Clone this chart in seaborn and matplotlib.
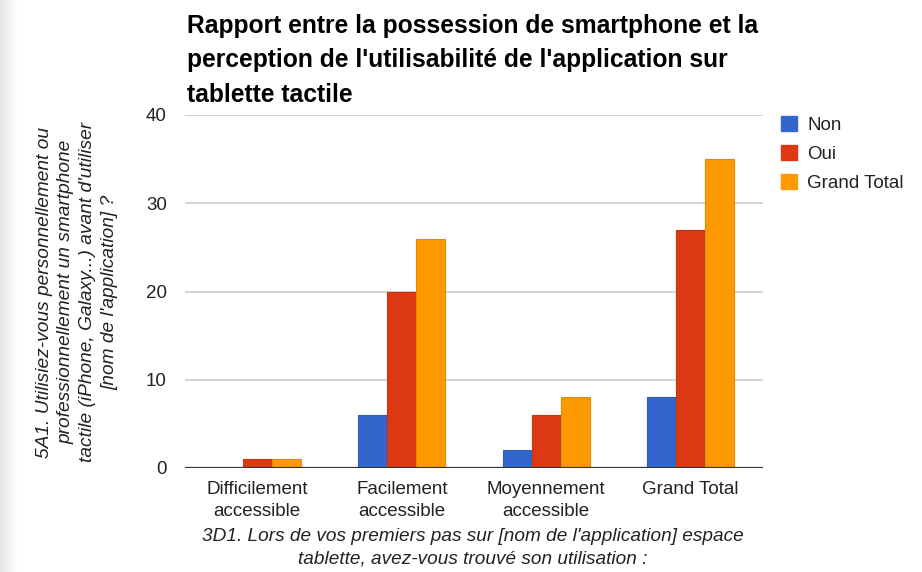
import matplotlib
matplotlib.use("Agg")
import matplotlib.pyplot as plt
import matplotlib.patches as mpatches
import seaborn as sns
import pandas as pd

categories = ["Difficilement\naccessible", "Facilement\naccessible", "Moyennement\naccessible", "Grand Total"]
series_names = ["Non", "Oui", "Grand Total"]
non_values = [0, 6, 2, 8]
oui_values = [1, 20, 6, 27]
total_values = [1, 26, 8, 35]
y_ticks = [0, 10, 20, 30, 40]

title = "Rapport entre la possession de smartphone et la\nperception de l'utilisabilité de l'application sur\ntablette tactile"
y_label = ("5A1. Utilisiez-vous personnellement ou\nprofessionnellement un smartphone\n"
           "tactile (iPhone, Galaxy...) avant d'utiliser\n[nom de l'application] ?")
x_label = "3D1. Lors de vos premiers pas sur [nom de l'application] espace\ntablette, avez-vous trouvé son utilisation :"

colors = ["#3366CC", "#DC3912", "#FF9900"]

rows = []
for name, vals in zip(series_names, [non_values, oui_values, total_values]):
    for c, v in zip(categories, vals):
        rows.append({"cat": c, "serie": name, "val": v})
df = pd.DataFrame(rows)

sns.set_theme(style="white")
plt.rcParams["font.family"] = ["Liberation Sans", "DejaVu Sans"]

W, H = 922, 572
fig = plt.figure(figsize=(W / 100, H / 100), dpi=100)
fig.patch.set_facecolor("white")

# left shadow strip
for i in range(18):
    g = 0.90 + 0.1 * i / 18
    fig.patches.append(mpatches.Rectangle((i / W, 0), 1 / W, 1, transform=fig.transFigure,
                                          facecolor=(g, g, g), edgecolor="none", zorder=0))

ax = fig.add_axes([185 / W, (H - 468) / H, 578 / W, 353 / H])
sns.barplot(data=df, x="cat", y="val", hue="serie", order=categories, hue_order=series_names,
            palette=colors, width=0.6, ax=ax, saturation=1, legend=False, zorder=3)
for p in ax.patches:
    fc = p.get_facecolor()
    p.set_edgecolor([max(0, c * 0.9) for c in fc[:3]])
    p.set_linewidth(0.8)

ax.set_xlim(-0.5, 3.5)
ax.set_ylim(0, 40)
ax.set_yticks(y_ticks)
ax.set_yticklabels([str(t) for t in y_ticks])
for sp in ax.spines.values():
    sp.set_visible(False)
ax.grid(axis="y", color="#cccccc", linewidth=1.2, zorder=0)
ax.set_axisbelow(True)
ax.axhline(0, color="#333333", linewidth=1.6, zorder=4)
ax.tick_params(axis="y", length=0, pad=13, labelsize=13.5, labelcolor="#222222")
ax.tick_params(axis="x", length=0, pad=9, labelsize=13.5, labelcolor="#222222")
for lbl in ax.get_xticklabels():
    lbl.set_linespacing(1.42)
ax.set_xlabel("")
ax.set_ylabel("")

fig.text(187 / W, (H - 14) / H, title, ha="left", va="top", fontsize=17.7, fontweight="bold",
         color="black", linespacing=1.55)
fig.text(77 / W, (H - 292) / H, y_label, rotation=90, ha="center", va="center", fontsize=13.8,
         style="italic", color="#222222", multialignment="center", linespacing=1.37)
fig.text(473 / W, (H - 548) / H, x_label, ha="center", va="center", fontsize=13.7,
         style="italic", color="#222222", multialignment="center", linespacing=1.45)

handles = [mpatches.Patch(facecolor=c, edgecolor=c, label=n) for c, n in zip(colors, series_names)]
fig.legend(handles=handles, loc="upper left", bbox_to_anchor=(764 / W, (H - 99) / H), frameon=False,
           fontsize=13.5, handlelength=0.85, handleheight=0.85, handletextpad=0.55, labelspacing=0.6,
           labelcolor="#222222")

fig.savefig("out.png", dpi=100)
